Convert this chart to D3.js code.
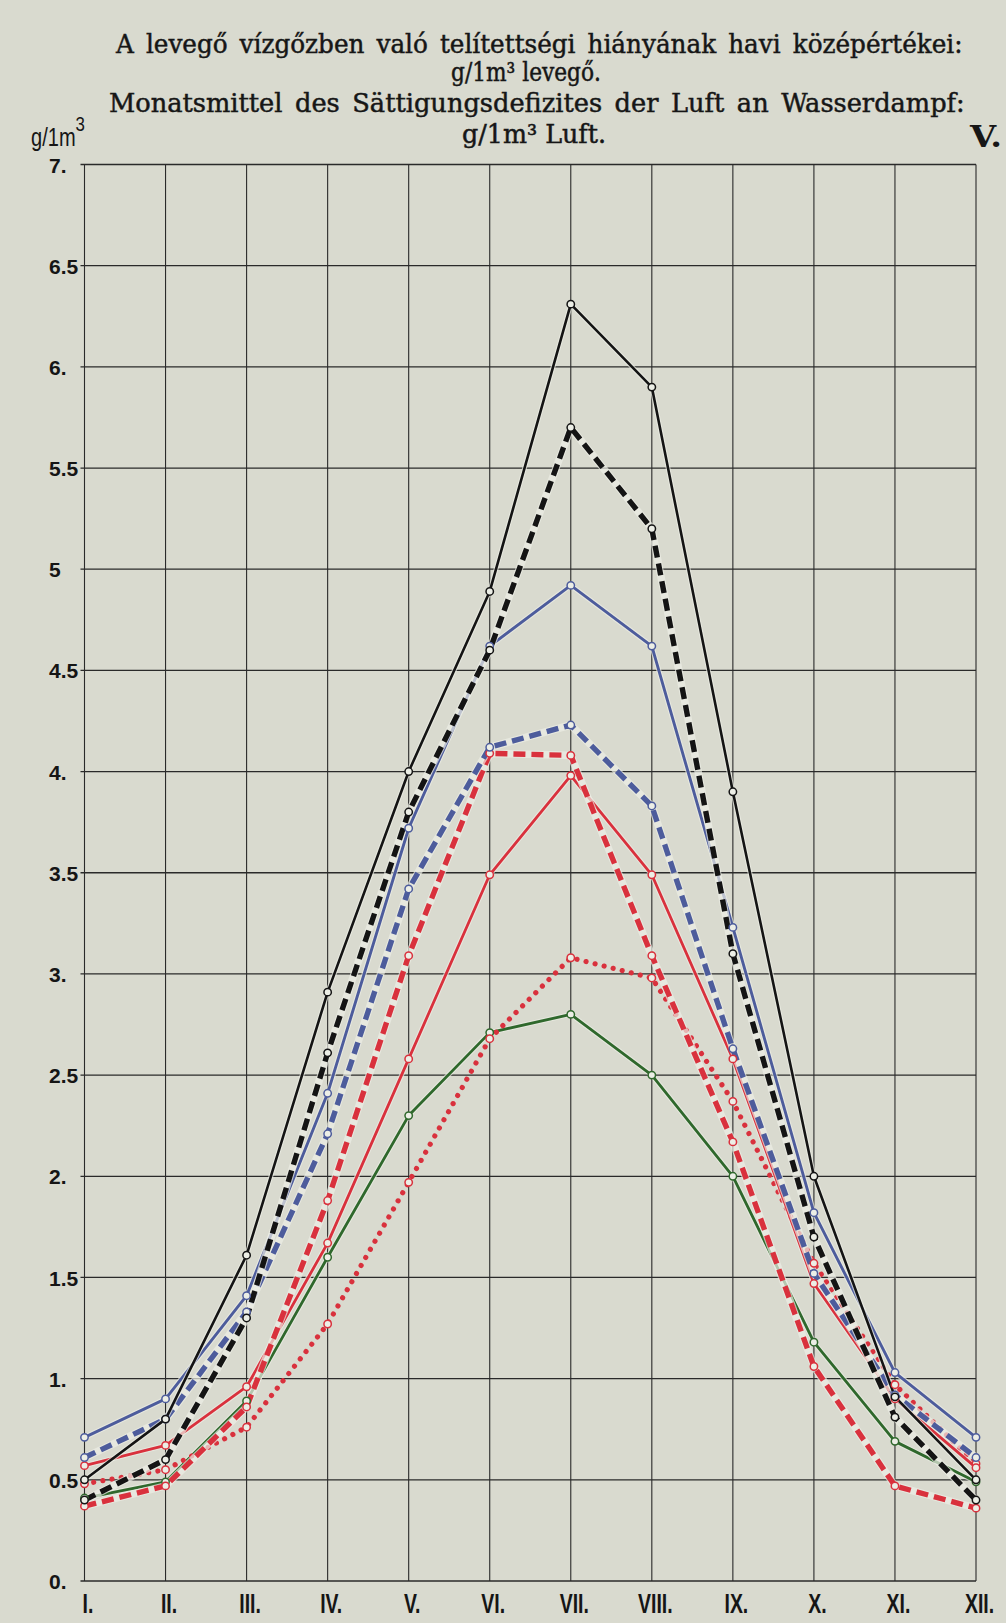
<!DOCTYPE html>
<html><head><meta charset="utf-8">
<script src="https://cdn.jsdelivr.net/npm/d3@7"></script>
<style>html,body{margin:0;padding:0;background:#d9dacf;} svg{display:block}</style>
</head><body><div id="chart"></div>
<script>
// ---------- data ----------
const months = ["I.","II.","III.","IV.","V.","VI.","VII.","VIII.","IX.","X.","XI.","XII."];
const yTicks = [0,0.5,1,1.5,2,2.5,3,3.5,4,4.5,5,5.5,6,6.5,7];
const yTickLabels = ["0.","0.5","1.","1.5","2.","2.5","3.","3.5","4.","4.5","5","5.5","6.","6.5","7."];
const titleLines = [
  "A levegő vízgőzben való telítettségi hiányának havi középértékei:",
  "g/1m³ levegő.",
  "Monatsmittel des Sättigungsdefizites der Luft an Wasserdampf:",
  "g/1m³ Luft."
];
const plateLabel = "V.";
const unitLabel = "g/1m";
const unitSup = "3";

const blackSolid  = [0.50,0.80,1.61,2.91,4.00,4.89,6.31,5.90,3.90,2.00,0.91,0.50];
const blackDashed = [0.40,0.60,1.30,2.61,3.80,4.60,5.70,5.20,3.10,1.70,0.81,0.40];
const blueSolid   = [0.71,0.90,1.41,2.41,3.72,4.62,4.92,4.62,3.23,1.82,1.03,0.71];
const blueDashed  = [0.61,0.80,1.33,2.21,3.42,4.12,4.23,3.83,2.63,1.52,0.92,0.61];
const redSolid    = [0.57,0.67,0.96,1.67,2.58,3.49,3.98,3.49,2.58,1.47,0.90,0.56];
const redDashed   = [0.37,0.47,0.86,1.88,3.09,4.09,4.08,3.09,2.17,1.06,0.47,0.36];
const redDotted   = [0.48,0.55,0.76,1.27,1.97,2.68,3.08,2.98,2.37,1.57,0.97,0.58];
const greenSolid  = [0.41,0.49,0.89,1.60,2.30,2.71,2.80,2.50,2.00,1.18,0.69,0.49];

// ---------- styles ----------
const BLACK = "#141414", BLUE = "#4d5c9c", RED = "#d9313d", GREEN = "#2f682c";
const series = [
  {values: greenSolid,  color: GREEN, kind: "solid", w: 2.8},
  {values: redDotted,   color: RED,   kind: "dotted", w: 5.2},
  {values: redSolid,    color: RED,   kind: "solid", w: 2.8},
  {values: redDashed,   color: RED,   kind: "dashed", w: 5.4},
  {values: blueSolid,   color: BLUE,  kind: "solid", w: 2.9},
  {values: blueDashed,  color: BLUE,  kind: "dashed", w: 5.4},
  {values: blackSolid,  color: BLACK, kind: "solid", w: 2.6},
  {values: blackDashed, color: BLACK, kind: "dashed", w: 5.4}
];

const W = 1006, H = 1623;
const PAPER = "#d9dacf";
const svg = d3.select("#chart").append("svg").attr("width", W).attr("height", H);
svg.append("rect").attr("width", W).attr("height", H).attr("fill", PAPER);

const x = d3.scalePoint().domain(months).range([84.5, 976]);
const y = d3.scaleLinear().domain([0, 7]).range([1581, 164.5]);

// ---------- grid ----------
const grid = svg.append("g").attr("stroke", "#2a2a2a").attr("fill", "none");
grid.selectAll("line.h").data(yTicks).join("line").attr("class","h")
  .attr("x1", x(months[0]) - 4).attr("x2", x(months[months.length-1]))
  .attr("y1", d => y(d)).attr("y2", d => y(d)).attr("stroke-width", 1.3);
grid.selectAll("line.v").data(months).join("line").attr("class","v")
  .attr("x1", d => x(d)).attr("x2", d => x(d))
  .attr("y1", y(7)).attr("y2", y(0)).attr("stroke-width", 1.1);

// ---------- axes ----------
const yAxis = d3.axisLeft(y).tickValues(yTicks).tickFormat((d,i) => yTickLabels[i]).tickSize(0);
const gy = svg.append("g").attr("transform", "translate(49,0)").call(yAxis);
gy.select(".domain").remove();
gy.attr("font-family", "'Liberation Sans', Arial, sans-serif").attr("font-size", 21).attr("text-anchor", "start");
gy.selectAll("text").attr("x", 0).attr("dy", "0.36em").attr("fill", "#151515").attr("font-weight", "bold");

const xAxis = d3.axisBottom(x).tickSize(0).tickPadding(0);
const gx = svg.append("g").attr("transform", "translate(0,1613)").call(xAxis);
gx.select(".domain").remove();
gx.attr("font-family", "'Liberation Sans', Arial, sans-serif").attr("font-size", 27).attr("text-anchor", "middle");
gx.selectAll("text").attr("y", 0).attr("dy", null).attr("fill", "#151515").attr("font-weight", "bold")
  .attr("transform", "translate(3,0) scale(0.72,1)");

// ---------- lines ----------
const line = d3.line().x((d,i) => x(months[i])).y(d => y(d));
const plot = svg.append("g");
series.forEach(s => {
  if (s.kind !== "dotted") {
    plot.append("path").attr("d", line(s.values)).attr("fill", "none")
      .attr("stroke", "#eceee6").attr("stroke-opacity", 0.7)
      .attr("stroke-width", s.w + 2.2).attr("stroke-linejoin", "round");
  }
  const p = plot.append("path").attr("d", line(s.values)).attr("fill", "none")
    .attr("stroke", s.color).attr("stroke-linejoin", "round").attr("stroke-width", s.w);
  if (s.kind === "dashed") p.attr("stroke-dasharray", "12 6");
  if (s.kind === "dotted") p.attr("stroke-linecap", "round").attr("stroke-dasharray", "0.01 9.3");
});
series.forEach(s => {
  plot.append("g").selectAll("circle").data(s.values).join("circle")
    .attr("cx", (d,i) => x(months[i])).attr("cy", d => y(d)).attr("r", 3.7)
    .attr("fill", "#eceee6").attr("stroke", s.color).attr("stroke-width", 1.5);
});

// ---------- titles ----------
function fit(sel, x0, x1, base) {
  const len = sel.node().getComputedTextLength();
  const k = (x1 - x0) / len;
  sel.attr("transform", `translate(${x0},${base}) scale(${k},1)`);
  return k;
}
function makeTitle(t, ws) {
  return svg.append("text").text(t)
    .attr("font-family", "'DejaVu Serif Condensed', 'DejaVu Serif', serif")
    .attr("font-size", 26).attr("fill", "#161616").attr("word-spacing", ws)
    .attr("stroke", "#161616").attr("stroke-width", 0.45)
    .attr("x", 0).attr("y", 0);
}
fit(makeTitle(titleLines[0], 4), 116, 963, 53);
fit(makeTitle(titleLines[1], 0), 451, 601, 81);
fit(makeTitle(titleLines[2], 4), 109, 965, 112);
fit(makeTitle(titleLines[3], 0), 462, 606, 143);

const pl = svg.append("text").text(plateLabel)
  .attr("font-family", "'DejaVu Serif', serif").attr("font-weight", "bold")
  .attr("font-size", 30).attr("fill", "#161616");
fit(pl, 970, 1002, 147);

const ul = svg.append("text").attr("font-family", "'Liberation Sans', Arial, sans-serif")
  .attr("font-size", 25).attr("fill", "#161616");
ul.append("tspan").text(unitLabel);
ul.append("tspan").text(unitSup).attr("font-size", 21).attr("dy", -15);
fit(ul, 31, 85, 146);
</script></body></html>
